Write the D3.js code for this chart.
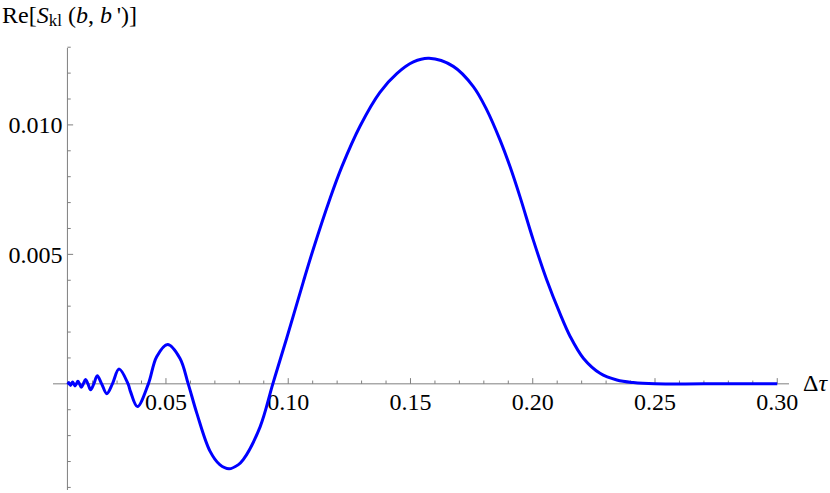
<!DOCTYPE html>
<html>
<head>
<meta charset="utf-8">
<script src="https://cdn.jsdelivr.net/npm/d3@7"></script>
<style>
  html, body { margin: 0; padding: 0; background: #fff; }
  svg { display: block; }
  .serif { font-family: 'Liberation Serif', 'Times New Roman', Times, 'DejaVu Serif', serif; }
</style>
</head>
<body>
<div id="chart"></div>
<script>
// values (Δτ, Re S)
var tau = [0.0097, 0.0099, 0.01025, 0.0106, 0.01098, 0.01138, 0.01182, 0.0123, 0.0128, 0.01336,
  0.01397, 0.01463, 0.01536, 0.0162, 0.01707, 0.0181, 0.0192, 0.0205, 0.0219, 0.0237,
  0.0258, 0.0281, 0.0308, 0.0345, 0.0355, 0.0383, 0.0428, 0.0462, 0.0507, 0.0557,
  0.0591, 0.0626, 0.068, 0.072, 0.0758, 0.0795, 0.0816, 0.0885, 0.0937, 0.0994, 0.1062, 0.1103,
  0.1171, 0.1219, 0.1294, 0.1375, 0.1444, 0.1512, 0.1576, 0.1675, 0.1757, 0.1812,
  0.1866, 0.1907, 0.1948, 0.2002, 0.2057, 0.2112, 0.2153, 0.2207, 0.2275, 0.2344,
  0.2411, 0.25, 0.27, 0.30];
var reS = [-0.00002, 0, 0.00005, 0, -0.00006, 0, 0.00007, 0, -0.00008, 0,
  0.0001, 0, -0.00013, 0, 0.00017, 0, -0.00023, 0, 0.00031, 0,
  -0.00038, 0, 0.00057, 0, -0.0003, -0.00088, 0, 0.00105, 0.00152, 0.00099,
  0, -0.00113, -0.0026, -0.00312, -0.00328, -0.00313, -0.00293, -0.00166, 0, 0.00177, 0.00395, 0.00522,
  0.00716, 0.00838, 0.00996, 0.01126, 0.01198, 0.01243, 0.01257, 0.01226, 0.01148, 0.01058,
  0.00942, 0.00839, 0.00722, 0.00556, 0.00402, 0.0027, 0.00183, 0.00099, 0.00041, 0.00015,
  0.00005, 0, 0, 0];

var xMajor = [0.05, 0.10, 0.15, 0.20, 0.25, 0.30];
var xMinor = [0.02, 0.03, 0.04, 0.06, 0.07, 0.08, 0.09, 0.11, 0.12, 0.13, 0.14,
  0.16, 0.17, 0.18, 0.19, 0.21, 0.22, 0.23, 0.24, 0.26, 0.27, 0.28, 0.29];
var yMajor = [0.005, 0.010];
var yMinor = [-0.004, -0.003, -0.002, -0.001, 0.001, 0.002, 0.003, 0.004,
  0.006, 0.007, 0.008, 0.009, 0.011, 0.012, 0.013];

var width = 830, height = 493;
var axisColor = '#7f7f7f';

var svg = d3.select('#chart').append('svg')
  .attr('width', width)
  .attr('height', height);

var x = d3.scaleLinear().domain([0.0038, 0.3048]).range([53, 789]);
var y = d3.scaleLinear().domain([-0.0041, 0.01297]).range([490, 48]);

var x0 = x(tau[0]); // where the vertical axis stands
var y0 = y(0);

// x axis
var gx = svg.append('g').attr('transform', 'translate(0,' + y0 + ')');
gx.append('line')
  .attr('x1', x.range()[0]).attr('x2', x.range()[1])
  .attr('stroke', axisColor).attr('stroke-width', 1);
gx.selectAll('.minor').data(xMinor).join('line')
  .attr('x1', d => x(d)).attr('x2', d => x(d))
  .attr('y1', 0).attr('y2', -3.3)
  .attr('stroke', axisColor);
gx.selectAll('.major').data(xMajor).join('line')
  .attr('x1', d => x(d)).attr('x2', d => x(d))
  .attr('y1', 0).attr('y2', -5.7)
  .attr('stroke', axisColor);
gx.selectAll('text').data(xMajor).join('text')
  .attr('class', 'serif')
  .attr('x', d => x(d))
  .attr('y', 26)
  .attr('text-anchor', 'middle')
  .attr('font-size', 24)
  .text(d3.format('.2f'));

// y axis
var gy = svg.append('g').attr('transform', 'translate(' + x0 + ',0)');
gy.append('line')
  .attr('y1', y.range()[0]).attr('y2', y.range()[1])
  .attr('stroke', axisColor).attr('stroke-width', 1);
gy.selectAll('.minor').data(yMinor).join('line')
  .attr('y1', d => y(d)).attr('y2', d => y(d))
  .attr('x1', 0).attr('x2', 3.3)
  .attr('stroke', axisColor);
gy.selectAll('.major').data(yMajor).join('line')
  .attr('y1', d => y(d)).attr('y2', d => y(d))
  .attr('x1', 0).attr('x2', 5.7)
  .attr('stroke', axisColor);
gy.selectAll('text').data(yMajor).join('text')
  .attr('class', 'serif')
  .attr('x', -5)
  .attr('y', d => y(d))
  .attr('dy', '0.34em')
  .attr('text-anchor', 'end')
  .attr('font-size', 24)
  .text(d3.format('.3f'));

// curve
var line = d3.line()
  .x((d, i) => x(tau[i]))
  .y(d => y(d))
  .curve(d3.curveCatmullRom.alpha(0.5));

svg.append('path')
  .attr('d', line(reS))
  .attr('fill', 'none')
  .attr('stroke', '#0000ff')
  .attr('stroke-width', 3)
  .attr('stroke-linejoin', 'round');

// axis labels
var title = svg.append('text')
  .attr('class', 'serif')
  .attr('x', 2).attr('y', 23)
  .attr('font-size', 24);
title.append('tspan').text('Re[');
title.append('tspan').attr('font-style', 'italic').text('S');
title.append('tspan').attr('font-size', 17).attr('dy', 3).text('kl');
title.append('tspan').attr('dy', -3).text(' (');
title.append('tspan').attr('font-style', 'italic').text('b');
title.append('tspan').text(', ');
title.append('tspan').attr('font-style', 'italic').text('b');
title.append('tspan').text('\u2009\')]');

var xl = svg.append('text')
  .attr('class', 'serif')
  .attr('x', 803).attr('y', 391)
  .attr('font-size', 24);
xl.append('tspan').text('\u0394');
xl.append('tspan').attr('font-style', 'italic').text('\u03c4');
</script>
</body>
</html>
